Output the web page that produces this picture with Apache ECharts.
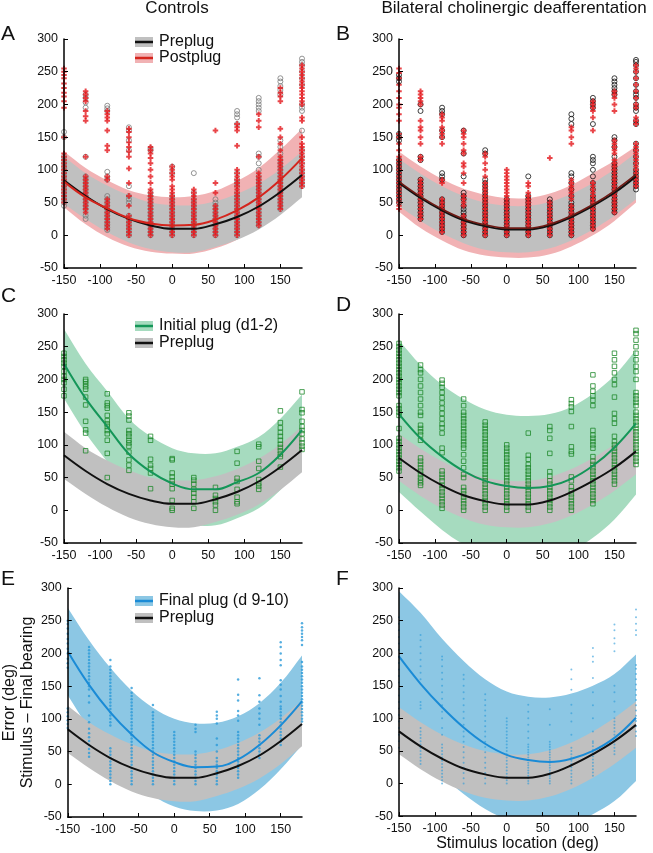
<!DOCTYPE html>
<html>
<head>
<meta charset="utf-8">
<script src="https://cdn.jsdelivr.net/npm/echarts@6/dist/echarts.min.js"></script>
<style>
html,body{margin:0;padding:0;background:#fff;}
#chart{width:653px;height:853px;}
</style>
</head>
<body>
<div id="chart"></div>
<script>
// ---------- DATA ----------
const locs = [-150,-120,-90,-60,-30,0,30,60,90,120,150,180];
const xTicks = [-150,-100,-50,0,50,100,150];
const yTicks = [-50,0,50,100,150,200,250,300];

// fitted curves and bands (controls)
const ctrlPreMean = [84,60,40,25,15,10,10,17,28,44,66,92];
const ctrlPreUp   = [120,95,76,61,50,46,46,52,63,79,101,128];
const ctrlPreLo   = [48,25,5,-11,-21,-26,-26,-18,-7,9,31,58];
const ctrlPostMean = [82,58,41,26,18,15,16,24,38,58,85,118];
const ctrlPostUp   = [128,103,84,69,61,58,60,68,83,103,131,163];
const ctrlPostLo   = [43,17,-3,-17,-25,-28,-28,-20,-7,13,40,73];
const ctrlInitMean = [224,171,128,86,59,41,32,32,43,57,85,123];
const ctrlInitUp   = [277,224,182,140,113,95,87,87,97,112,140,177];
const ctrlInitLo   = [171,118,74,32,5,-13,-22,-23,-12,3,31,68];
const ctrlFinalMean = [203,152,110,76,49,34,26,27,38,60,90,127];
const ctrlFinalUp   = [270,220,178,143,117,100,93,94,104,124,155,197];
const ctrlFinalLo   = [136,85,44,9,-17,-34,-41,-40,-30,-8,23,60];

// fitted curves and bands (bilateral deafferentation)
const deafPreMean = [80,57,38,23,14,9,9,15,28,45,65,90];
const deafPreUp   = [117,94,75,60,50,45,45,51,63,80,101,126];
const deafPreLo   = [45,22,3,-12,-22,-26,-26,-20,-8,9,30,55];
const deafPostMean = [82,59,40,25,16,11,11,17,30,47,68,93];
const deafPostUp   = [128,105,86,71,62,57,57,64,77,95,114,136];
const deafPostLo   = [36,11,-8,-23,-31,-34,-34,-29,-17,0,22,50];
const deafInitMean = [147,110,82,60,45,37,34,37,48,68,96,133];
const deafInitUp   = [260,222,192,170,154,146,144,147,158,178,206,245];
const deafInitLo   = [28,-2,-30,-52,-66,-73,-76,-73,-62,-42,-14,24];
const deafFinalMean = [195,153,117,86,61,44,36,33,38,50,70,101];
const deafFinalUp   = [295,262,222,188,160,141,133,132,138,150,168,198];
const deafFinalLo   = [95,45,12,-16,-39,-55,-63,-65,-60,-47,-27,4];

// individual trials, one list per stimulus location
const ctrlPrePts = [
 [45,50,55,60,65,70,75,80,85,90,95,100,105,110,115,120,150,158],
 [25,30,40,45,50,55,60,65,70,75,80,85,90,120,195,203,210,215],
 [8,12,16,20,25,30,35,40,45,50,55,60,85,90,97,190,194,198],
 [0,5,10,15,20,25,30,50,55,60,75,130,145,160,165],
 [0,5,10,15,20,25,30,35,40,45,50,55,60,65,130,133],
 [0,5,10,15,20,25,30,35,40,45,50,55,60,95,105],
 [0,5,10,15,20,25,30,35,40,45,50,55,65,95],
 [0,5,10,15,20,25,30,35,40,45,50,55],
 [0,5,10,15,20,25,30,35,40,45,50,55,60,65,75,80,85,95,170,180,185,190],
 [15,20,25,30,35,40,45,50,55,60,65,70,75,80,85,90,100,110,120,125,190,195,200,205,210],
 [40,45,50,55,60,65,70,75,80,85,90,95,100,105,110,115,125,135,145,215,222,228,235,240],
 [75,80,85,90,95,100,110,120,130,160,190,195,200,230,240,250,260,265,270]
];
const ctrlPostPts = [
 [50,55,60,65,70,75,80,85,90,95,100,105,110,115,120,125,150,195,205,212,218,225,232,240,245,250,255],
 [35,40,45,50,55,60,65,70,75,80,85,90,120,175,182,190,205,210,215,220],
 [10,15,20,25,30,35,40,45,50,55,85,90,130,137,160,175,180,185,190],
 [0,5,10,15,20,25,30,45,60,80,102,120,128,135,142,150,158,163],
 [0,5,10,15,20,25,30,35,40,45,50,55,60,65,70,80,90,100,110,118,125,130,135],
 [0,5,10,15,20,25,30,35,40,45,50,55,60,65,70,75,85,90,95,100,105],
 [0,5,10,15,20,25,30,35,40,45,50,55,60,65,70],
 [0,5,10,15,20,25,30,35,40,45,65,80,160],
 [0,5,10,15,20,25,30,35,40,45,50,55,60,65,70,75,80,85,90,95,100,137,160,165,170],
 [15,20,25,30,35,40,45,50,55,60,65,70,75,80,85,90,95,120,165,175,185],
 [40,45,50,55,60,65,70,75,80,85,90,95,100,105,110,115,120,130,140,150,163,205,212,218,225],
 [75,80,85,90,95,100,105,110,115,120,125,130,135,140,150,175,180,200,205,210,215,220,225,230,235,240,245,250,255,260]
];
const deafPrePts = [
 [50,55,60,65,70,75,80,85,90,95,100,105,110,115,145,150,155,235,240,245],
 [25,30,35,40,45,50,55,60,65,70,75,80,85,115,120,190,200],
 [5,10,15,20,25,30,35,40,45,50,55,85,90,95,150,160,185,190,195],
 [0,5,10,15,20,25,30,35,40,45,55,60,65,90,125,160],
 [0,5,10,15,20,25,30,35,40,45,50,55,60,65,70,75,80,85,125,130],
 [0,5,10,15,20,25,30,35,40,45,50,55],
 [0,5,10,15,20,25,30,35,40,45,50,55,60,90],
 [0,5,10,15,20,25,30,35,40,45,50,55],
 [0,5,10,15,20,25,30,35,40,45,50,60,70,80,90,95,170,178,185],
 [10,15,20,25,30,35,40,45,50,55,60,70,80,90,100,110,115,120,170,195,200,205,210],
 [35,40,45,50,55,60,65,70,75,80,85,90,95,100,105,110,120,135,145,150,215,220,225,230,235,240],
 [70,75,80,85,90,95,100,110,120,130,140,170,175,190,195,200,210,215,220,230,240,250,260,265,268]
];
const deafPostPts = [
 [40,45,50,55,60,65,70,75,80,85,90,95,100,105,110,115,120,130,140,150,155,175,185,195,200,210,220,230,240,248,255],
 [25,30,35,40,45,50,55,60,65,70,75,80,85,115,120,140,150,160,165,175,200,205,210,215,220],
 [5,10,15,20,25,30,35,40,45,50,55,80,85,140,150,155,160,165,175,180,185],
 [0,5,10,15,20,25,30,45,50,55,60,80,95,105,110,125,130,140,150,155,160],
 [0,5,10,15,20,25,30,35,40,45,50,55,60,65,70,75,80,90,100,110,120,125],
 [0,5,10,15,20,25,30,35,40,45,50,55,60,65,70,75,80,85,90,95,100],
 [0,5,10,15,20,25,30,35,40,45,50,55,60,65,75,80],
 [0,5,10,15,20,25,30,35,40,45,50,118],
 [0,5,10,15,20,25,30,35,40,45,55,60,65,70,75,80,85,140,150,160,165],
 [10,15,20,25,30,35,40,45,50,55,60,65,70,75,80,160,180,190,195,200,205],
 [35,40,45,50,55,60,65,70,75,80,85,90,95,100,105,110,115,125,130,135,140,145,190,200,210,215,220],
 [75,80,85,90,95,100,105,110,115,120,125,130,135,140,170,175,180,195,200,210,220,230,240,250,255,260]
];
const ctrlInitPts = [
 [240,235,230,225,220,212,205,200,195,185,175],
 [200,197,193,189,185,173,161,136,123,118,91],
 [178,164,160,156,145,137,132,128,122,117,107,87,50],
 [149,144,138,122,117,113,107,103,98,89,77,69,61],
 [113,107,78,69,64,57,33],
 [79,77,57,51,45,40,33,15,3,0],
 [50,46,40,32,26,20,13,3],
 [35,23,18,13,8,0],
 [90,72,49,44,32,20,13,10],
 [101,97,75,64,47,41,37,32],
 [152,134,126,119,113,107,101,96,91,86,82,66],
 [181,154,149,136,128,122,117,109,103,98,93]
];
const deafInitPts = [
 [60,65,70,75,80,85,90,95,100,105,110,125,145,150,155,160,175,180,185,190,195,200,205,210,215,220,225,230,235,240,245,250,255],
 [38,42,46,50,55,60,65,70,75,80,107,115,120,125,130,145,150,160,170,180,190,200,210,215,222],
 [3,8,13,18,23,28,33,38,45,50,55,60,88,95,118,126,132,140,148,156,164,172,180,188,194,199],
 [0,5,10,15,20,25,30,35,50,55,65,75,85,95,100,105,110,115,120,125,130,135,140,145,150,160,170],
 [0,5,10,15,20,25,30,35,40,45,50,55,60,65,70,75,80,85,90,95,100,105,110,115,120,125,130,135],
 [0,5,10,15,20,25,30,35,40,45,50,55,60,65,70,75,80,85,90,95,100],
 [0,5,10,15,20,25,30,35,40,45,50,55,60,65,70,78,84,118],
 [0,5,10,15,20,25,30,35,40,45,52,59,87,110,122,128],
 [0,5,10,15,20,25,30,36,45,51,86,90,97,128,151,158,163,169],
 [10,15,20,25,30,35,40,45,50,55,60,65,70,75,82,95,100,105,110,115,122,160,168,175,182,190,207],
 [40,45,50,55,60,65,70,75,80,85,90,95,100,105,113,133,140,148,173,192,200,210,220,230,240],
 [70,75,80,85,90,95,100,105,110,115,120,125,130,135,140,145,150,160,165,170,175,180,200,212,220,230,240,250,260,270,275]
];
const ctrlFinalPts = [
 [86,92,98,104,110,116,178,185,192,200,207,215,222,230,238,245,250],
 [42,48,54,60,66,72,78,85,95,105,125,135,145,150,155,160,165,170,175,180,185,190,195,200,205,210],
 [0,5,10,15,20,25,30,35,40,45,50,55,90,95,100,105,110,115,120,125,130,135,140,145,150,155,160,165,170,175,180,190],
 [0,5,10,15,20,25,30,35,40,45,50,55,60,65,70,75,80,85,90,95,100,105,110,115,120,125,130,135,140,147],
 [0,5,10,15,20,25,30,35,40,45,50,55,60,65,70,75,80,85,90,95,100,105,110,121],
 [0,5,10,15,20,25,30,35,40,45,50,55,60,65,70,75,80],
 [0,5,10,15,20,25,30,35,40,45,50,80,85,91],
 [0,5,10,15,20,25,30,35,40,50,60,70,93,100,105,111],
 [10,15,20,25,30,35,40,45,50,55,60,65,70,75,80,97,105,112,128,137,160],
 [40,45,50,55,60,65,70,75,91,100,108,116,126,136,162],
 [60,65,70,75,80,85,90,95,100,105,110,115,119,126,135,145,152,159,182,190,200,210,217],
 [96,100,105,110,115,120,125,130,135,140,145,150,155,160,165,170,175,180,187,213,220,225,230,235,240,246]
];
const deafFinalPts = [
 [55,65,75,85,95,105,115,125,135,145,155,165,175,185,195,205,215,225,235,245,255],
 [30,35,40,45,50,55,60,65,70,75,80,85,115,120,125,160,170,180,190,200,210,220,228],
 [0,5,10,15,20,25,30,35,40,45,50,55,60,75,85,100,110,120,130,140,150,160,170,180,190,195],
 [0,8,16,24,32,40,48,56,64,72,80,90,100,110,120,130,140,150,160,167],
 [0,8,16,24,32,40,48,56,64,72,80,88,96,104,112,120,128,137],
 [0,5,10,15,20,25,30,35,40,45,50,55,60,65,70,75,80,85,90,95,100],
 [0,4,8,12,16,20,24,28,32,36,40,44,48,52,56,60,70,80,90,100,110,121],
 [0,4,8,12,16,20,24,28,32,36,40,44,48,52,56,60,64,90,114],
 [0,5,10,15,20,25,30,35,40,45,50,55,75,95,108,121,144,160,175],
 [12,17,22,27,32,37,42,47,52,57,62,65,80,100,120,140,162,187,195,208],
 [45,50,55,60,65,70,75,80,85,90,95,100,110,126,140,150,203,215,223,235,244],
 [73,80,88,96,104,112,120,128,136,144,152,160,168,176,182,228,235,245,255,267]
];

// ---------- STYLE / LAYOUT ----------
const FONT = '"Liberation Sans", Arial, sans-serif';
const GRAY_BAND = '#c0c0c0';
const PINK_BAND = '#f1b2b4';
const GREEN_BAND = '#a6dbbf';
const BLUE_BAND = '#8cc7e4';
const RED = '#e3161c';
const GREEN_LINE = '#149658';
const GREEN_MK = '#1f8a2c';
const BLUE_LINE = '#1a8bd6';
const BLUE_MK = '#2a9ad8';
const PLUS = 'path://M1.6,0H3.4V1.6H5V3.4H3.4V5H1.6V3.4H0V1.6H1.6Z';

const grids = [
  {left:64, top:39, width:238, height:229},
  {left:399, top:39, width:237, height:229},
  {left:64, top:314, width:238, height:229},
  {left:399, top:314, width:237, height:229},
  {left:64, top:588, width:238, height:229},
  {left:399, top:588, width:237, height:229}
];

// band drawn as a smoothed polygon through the library's coordinate system
function band(gi, lo, up, color, z) {
  return {
    type:'custom', xAxisIndex:gi, yAxisIndex:gi, silent:true, z:z,
    data: locs.map((x,i)=>[x, lo[i], up[i]]),
    encode:{x:0, y:[1,2]},
    renderItem: function(params, api) {
      if (params.dataIndex !== 0) return null;
      const n = params.dataInsideLength;
      const top = [], bot = [];
      for (let i = 0; i < n; i++) {
        top.push(api.coord([api.value(0,i), api.value(2,i)]));
        bot.push(api.coord([api.value(0,i), api.value(1,i)]));
      }
      bot.reverse();
      // duplicate the corner points so that the ends stay square
      const pts = [top[0]].concat(top, [top[n-1], bot[0]], bot, [bot[n-1]]);
      const cs = params.coordSys;
      return {
        type:'polygon',
        shape:{points:pts, smooth:0.35},
        style:{fill:color, stroke:null},
        clipPath:{type:'rect', shape:{x:cs.x, y:cs.y, width:cs.width, height:cs.height}}
      };
    }
  };
}
function curve(gi, mean, color, width, z) {
  return {type:'line', xAxisIndex:gi, yAxisIndex:gi, data: locs.map((x,i)=>[x, mean[i]]),
    smooth:0.4, symbol:'none', silent:true, z:z, lineStyle:{color:color, width:width}};
}
function dots(gi, pts, symbol, size, itemStyle, z) {
  const data = [];
  pts.forEach((col,i)=>col.forEach(y=>data.push([locs[i], y])));
  return {type:'scatter', xAxisIndex:gi, yAxisIndex:gi, data:data, symbol:symbol, symbolSize:size,
    itemStyle:itemStyle, silent:true, z:z, clip:false};
}

const series = [
  // A
  band(0, ctrlPostLo, ctrlPostUp, PINK_BAND, 1),
  band(0, ctrlPreLo, ctrlPreUp, GRAY_BAND, 2),
  dots(0, ctrlPrePts, 'circle', 5, {color:'transparent', borderColor:'#7a7a7a', borderWidth:1}, 3),
  dots(0, ctrlPostPts, PLUS, 5.5, {color:RED}, 4),
  curve(0, ctrlPreMean, '#111', 2, 5),
  curve(0, ctrlPostMean, '#d4251d', 2, 6),
  // B
  band(1, deafPostLo, deafPostUp, PINK_BAND, 1),
  band(1, deafPreLo, deafPreUp, GRAY_BAND, 2),
  dots(1, deafPrePts, 'circle', 5, {color:'transparent', borderColor:'#111', borderWidth:1}, 3),
  dots(1, deafPostPts, PLUS, 5.5, {color:RED}, 4),
  curve(1, deafPreMean, '#111', 2, 5),
  curve(1, deafPostMean, '#6e1a14', 1.6, 6),
  // C
  band(2, ctrlInitLo, ctrlInitUp, GREEN_BAND, 1),
  band(2, ctrlPreLo, ctrlPreUp, GRAY_BAND, 2),
  dots(2, ctrlInitPts, 'rect', 4.5, {color:'transparent', borderColor:GREEN_MK, borderWidth:1}, 3),
  curve(2, ctrlPreMean, '#111', 2, 5),
  curve(2, ctrlInitMean, GREEN_LINE, 2, 6),
  // D
  band(3, deafInitLo, deafInitUp, GREEN_BAND, 1),
  band(3, deafPreLo, deafPreUp, '#c6c0c3', 2),
  dots(3, deafInitPts, 'rect', 4.5, {color:'transparent', borderColor:GREEN_MK, borderWidth:1}, 3),
  curve(3, deafPreMean, '#111', 2, 5),
  curve(3, deafInitMean, GREEN_LINE, 2, 6),
  // E
  band(4, ctrlFinalLo, ctrlFinalUp, BLUE_BAND, 1),
  band(4, ctrlPreLo, ctrlPreUp, GRAY_BAND, 2),
  dots(4, ctrlFinalPts, 'circle', 2.5, {color:BLUE_MK}, 3),
  curve(4, ctrlPreMean, '#111', 2, 5),
  curve(4, ctrlFinalMean, BLUE_LINE, 2, 6),
  // F
  band(5, deafFinalLo, deafFinalUp, BLUE_BAND, 1),
  band(5, deafPreLo, deafPreUp, GRAY_BAND, 2),
  dots(5, deafFinalPts, 'circle', 2, {color:BLUE_MK, opacity:0.6}, 3),
  curve(5, deafPreMean, '#111', 2, 5),
  curve(5, deafFinalMean, BLUE_LINE, 2, 6)
];

const axisCommon = {
  type:'value', z:10,
  axisLine:{show:true, onZero:false, lineStyle:{color:'#000', width:1.5}},
  axisTick:{show:true, inside:true, length:4, lineStyle:{color:'#000', width:1}},
  splitLine:{show:false},
  axisLabel:{fontSize:12.5, color:'#111', margin:6, fontFamily:FONT}
};
const xAxes = grids.map((g,i)=>Object.assign({}, axisCommon, {
  gridIndex:i, min:xTicks[0], max:locs[locs.length-1], interval:xTicks[1]-xTicks[0],
  axisLabel:Object.assign({}, axisCommon.axisLabel, {showMaxLabel:false})
}));
const yAxes = grids.map((g,i)=>Object.assign({}, axisCommon, {
  gridIndex:i, min:yTicks[0], max:yTicks[yTicks.length-1], interval:yTicks[1]-yTicks[0]
}));
xAxes[5].name = 'Stimulus location (deg)';
xAxes[5].nameLocation = 'middle';
xAxes[5].nameGap = 17;
xAxes[5].nameTextStyle = {fontSize:16, color:'#111', fontFamily:FONT};
yAxes[4].name = 'Error (deg)\nStimulus \u2013 Final bearing';
yAxes[4].nameLocation = 'middle';
yAxes[4].nameGap = 28;
yAxes[4].nameRotate = 90;
yAxes[4].nameTextStyle = {fontSize:16, lineHeight:18, color:'#111', fontFamily:FONT};

function txt(x, y, s, size, align) {
  return {type:'text', x:x, y:y, silent:true, z:100,
    style:{text:s, fontSize:size, fontFamily:FONT, fill:'#111', align:align||'left', verticalAlign:'middle'}};
}
function legendRow(y, bandColor, lineColor, label) {
  return [
    {type:'rect', silent:true, z:100, shape:{x:135, y:y-5, width:18, height:10}, style:{fill:bandColor}},
    {type:'line', silent:true, z:101, shape:{x1:135, y1:y, x2:153, y2:y}, style:{stroke:lineColor, lineWidth:2.5}},
    txt(159, y, label, 16)
  ];
}

const graphic = [].concat(
  [txt(177, 8, 'Controls', 17, 'center'),
   txt(514, 8, 'Bilateral cholinergic deafferentation', 17, 'center'),
   txt(1, 34, 'A', 21), txt(336, 34, 'B', 21),
   txt(1, 296, 'C', 21), txt(336, 305, 'D', 21),
   txt(1, 579, 'E', 21), txt(336, 579, 'F', 21)],
  legendRow(42, GRAY_BAND, '#111', 'Preplug'),
  legendRow(58, PINK_BAND, '#d4251d', 'Postplug'),
  legendRow(326, GREEN_BAND, GREEN_LINE, 'Initial plug (d1-2)'),
  legendRow(343, GRAY_BAND, '#111', 'Preplug'),
  legendRow(601, BLUE_BAND, BLUE_LINE, 'Final plug (d 9-10)'),
  legendRow(618, GRAY_BAND, '#111', 'Preplug')
);

const chart = echarts.init(document.getElementById('chart'), null, {renderer:'canvas'});
chart.setOption({
  animation:false,
  backgroundColor:'#fff',
  textStyle:{fontFamily:FONT},
  grid:grids,
  xAxis:xAxes,
  yAxis:yAxes,
  series:series,
  graphic:graphic
});
</script>
</body>
</html>
